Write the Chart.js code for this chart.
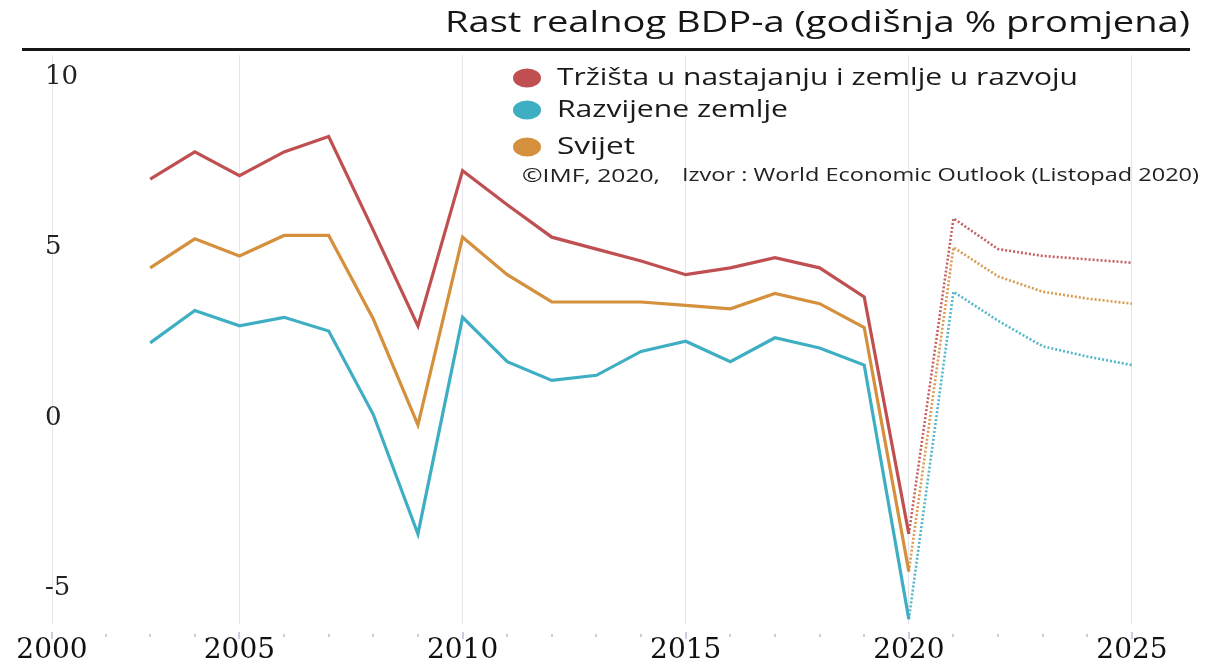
<!DOCTYPE html>
<html>
<head>
<meta charset="utf-8">
<title>Rast realnog BDP-a</title>
<script src="https://cdn.jsdelivr.net/npm/chart.js@4.4.0/dist/chart.umd.min.js"></script>
<style>
  html, body { margin: 0; padding: 0; background: #fff; }
  #wrap { width: 1208px; height: 664px; }
</style>
</head>
<body>
<div id="wrap"><canvas id="chart" width="1208" height="664"></canvas></div>
<script>
const titleText = 'Rast realnog BDP-a (godišnja % promjena)';
const copyText = '©IMF, 2020,';
const sourceText = 'Izvor : World Economic Outlook (Listopad 2020)';

const seriesNames = ['Tržišta u nastajanju i zemlje u razvoju', 'Razvijene zemlje', 'Svijet'];
const seriesColors = ['#bf4f51', '#3eafc3', '#d4903c'];

// actual values
const years = [2003, 2004, 2005, 2006, 2007, 2008, 2009, 2010, 2011, 2012, 2013, 2014, 2015, 2016, 2017, 2018, 2019, 2020];
const emerging = [7.0, 7.8, 7.1, 7.8, 8.25, 5.5, 2.7, 7.25, 6.25, 5.3, 4.95, 4.6, 4.2, 4.4, 4.7, 4.4, 3.55, -3.4];
const advanced = [2.2, 3.15, 2.7, 2.95, 2.55, 0.1, -3.4, 2.95, 1.65, 1.1, 1.25, 1.95, 2.25, 1.65, 2.35, 2.05, 1.55, -5.9];
const world = [4.4, 5.25, 4.75, 5.35, 5.35, 2.9, -0.2, 5.3, 4.2, 3.4, 3.4, 3.4, 3.3, 3.2, 3.65, 3.35, 2.65, -4.5];

// projections (dotted)
const forecastYears = [2020, 2021, 2022, 2023, 2024, 2025];
const emergingForecast = [-3.4, 5.85, 4.95, 4.75, 4.65, 4.55];
const advancedForecast = [-5.9, 3.7, 2.85, 2.1, 1.8, 1.55];
const worldForecast = [-4.5, 5.0, 4.15, 3.7, 3.5, 3.35];

const xMin = 2000.8;
const xMax = 2026.3;
const xTickValues = [xMin, 2005, 2010, 2015, 2020, 2025];
const xTickLabels = ['2000', '2005', '2010', '2015', '2020', '2025'];
const minorTickYears = [2002, 2003, 2004, 2006, 2007, 2008, 2009, 2011, 2012, 2013, 2014, 2016, 2017, 2018, 2019, 2021, 2022, 2023, 2024];
const yTickValues = [-5, 0, 5, 10];

function toPoints(xs, ys) {
    return xs.map((x, i) => ({ x: x, y: ys[i] }));
}

function lineSet(label, xs, ys, color, dotted) {
    return {
        label: label,
        data: toPoints(xs, ys),
        borderColor: dotted ? color + 'e6' : color,
        borderWidth: dotted ? 2.6 : 3.2,
        borderDash: dotted ? [2, 2] : [],
        pointRadius: 0,
        fill: false,
        tension: 0
    };
}

// text is squeezed/stretched horizontally so it fills the given width
function drawFitted(ctx, text, x, y, align, width) {
    const sx = width / ctx.measureText(text).width;
    ctx.save();
    ctx.translate(x, y);
    ctx.scale(sx, 1);
    ctx.textAlign = align;
    ctx.textBaseline = 'middle';
    ctx.fillText(text, 0, 0);
    ctx.restore();
}

// header, legend, source line and the small year ticks
const decorPlugin = {
    id: 'decor',
    afterDraw(chart) {
        const ctx = chart.ctx;
        const xScale = chart.scales.x;
        ctx.save();

        ctx.fillStyle = '#161616';
        ctx.font = '29px "Open Sans"';
        drawFitted(ctx, titleText, 1190, 24, 'right', 745);
        ctx.fillRect(22, 48, 1168, 3);

        const rowsY = [78, 110, 147];
        const rowWidths = [521, 231, 78];
        ctx.font = '23px "Open Sans"';
        seriesNames.forEach((name, i) => {
            ctx.fillStyle = seriesColors[i];
            ctx.beginPath();
            ctx.ellipse(527, rowsY[i], 14, 9.5, 0, 0, Math.PI * 2);
            ctx.fill();
            ctx.fillStyle = '#1a1a1a';
            drawFitted(ctx, name, 557, rowsY[i], 'left', rowWidths[i]);
        });

        ctx.font = '18px "Open Sans"';
        ctx.fillStyle = '#222';
        drawFitted(ctx, copyText, 522, 177, 'left', 138);
        drawFitted(ctx, sourceText, 1199, 176, 'right', 517);

        ctx.fillStyle = '#9a9ab8';
        xTickValues.forEach(v => {
            ctx.fillRect(Math.round(xScale.getPixelForValue(v)) - 0.5, 632, 1, 7);
        });
        minorTickYears.forEach(v => {
            ctx.fillRect(Math.round(xScale.getPixelForValue(v)) - 0.5, 634, 1, 3);
        });
        ctx.restore();
    }
};

document.addEventListener('DOMContentLoaded', () => {
    const canvas = document.getElementById('chart');

    const datasets = [
        lineSet(seriesNames[0], years, emerging, seriesColors[0], false),
        lineSet(seriesNames[2], years, world, seriesColors[2], false),
        lineSet(seriesNames[1], years, advanced, seriesColors[1], false),
        lineSet(seriesNames[0], forecastYears, emergingForecast, seriesColors[0], true),
        lineSet(seriesNames[2], forecastYears, worldForecast, seriesColors[2], true),
        lineSet(seriesNames[1], forecastYears, advancedForecast, seriesColors[1], true)
    ];

    new Chart(canvas, {
        type: 'line',
        data: { datasets: datasets },
        options: {
            responsive: false,
            animation: false,
            devicePixelRatio: 1,
            layout: { padding: { top: 55, right: 18, left: 52, bottom: 0 } },
            plugins: {
                legend: { display: false },
                title: { display: false },
                tooltip: { enabled: false }
            },
            scales: {
                x: {
                    type: 'linear',
                    min: xMin,
                    max: xMax,
                    afterBuildTicks: scale => { scale.ticks = xTickValues.map(v => ({ value: v })); },
                    afterFit: scale => { scale.height = 40; },
                    grid: { color: '#e6e6ea', lineWidth: 1, drawTicks: false },
                    border: { display: false },
                    ticks: {
                        autoSkip: false,
                        maxRotation: 0,
                        padding: 10,
                        color: '#111',
                        font: { family: 'DejaVu Serif', size: 28 },
                        callback: (value, index) => xTickLabels[index]
                    }
                },
                y: {
                    min: -6.04,
                    max: 10.64,
                    afterBuildTicks: scale => { scale.ticks = yTickValues.map(v => ({ value: v })); },
                    afterFit: scale => { scale.width = 0; },
                    grid: { display: false },
                    border: { display: false },
                    ticks: {
                        mirror: true,
                        crossAlign: 'near',
                        padding: -7,
                        color: '#222',
                        font: { family: 'DejaVu Serif', size: 26 }
                    }
                }
            }
        },
        plugins: [decorPlugin]
    });
});
</script>
</body>
</html>
